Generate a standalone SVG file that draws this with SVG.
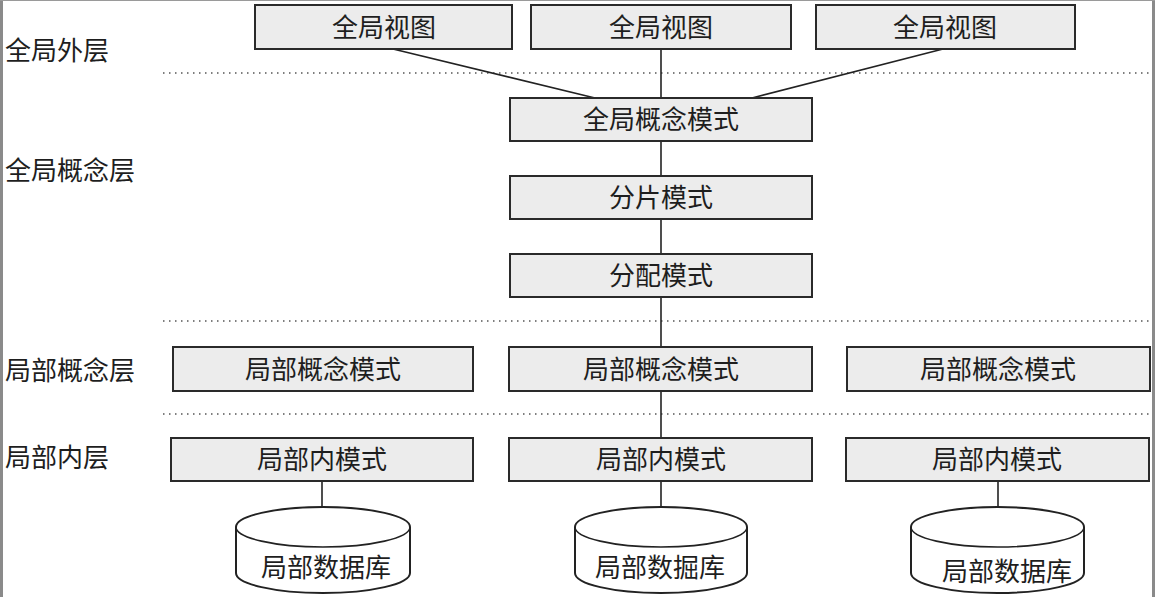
<svg xmlns="http://www.w3.org/2000/svg" width="1155" height="597" viewBox="0 0 1155 597">
<style>
.box{fill:#ececec;stroke:#2a2a2a;stroke-width:2}
.t{font-family:"Noto Sans CJK SC","Noto Sans CJK JP",sans-serif;font-size:26px;fill:#1e1e1e;text-anchor:middle}
.lbl{font-family:"Noto Sans CJK SC","Noto Sans CJK JP",sans-serif;font-size:26px;fill:#1e1e1e}
.ln{stroke:#222;stroke-width:1.6;fill:none}
.dot{stroke:#555;stroke-width:1.5;stroke-dasharray:1.5 4.5;fill:none}
.db{fill:#fff;stroke:#222;stroke-width:2}
</style>
<rect x="0" y="0" width="1155" height="597" fill="#fff"/>
<rect x="0" y="0" width="3" height="597" fill="#8a8a8a"/>
<rect x="1152" y="0" width="3" height="597" fill="#8a8a8a"/>
<rect x="0" y="0" width="1155" height="1" fill="#9a9a9a"/>
<g id="layers">
<text class="lbl" x="5" y="60">全局外层</text>
<text class="lbl" x="5" y="180">全局概念层</text>
<text class="lbl" x="5" y="380">局部概念层</text>
<text class="lbl" x="5" y="467">局部内层</text>
<line class="dot" x1="163" y1="73" x2="1152" y2="73"/>
<line class="dot" x1="163" y1="321" x2="1152" y2="321"/>
<line class="dot" x1="163" y1="414" x2="1152" y2="414"/>
</g>
<g id="connectors">
<line class="ln" x1="393" y1="49" x2="595" y2="98"/>
<line class="ln" x1="661" y1="49" x2="661" y2="98"/>
<line class="ln" x1="943" y1="49" x2="752" y2="98"/>
<line class="ln" x1="661" y1="141" x2="661" y2="176"/>
<line class="ln" x1="661" y1="219" x2="661" y2="254"/>
<line class="ln" x1="661" y1="297" x2="661" y2="347"/>
<line class="ln" x1="661" y1="391" x2="661" y2="438"/>
<line class="ln" x1="661" y1="481" x2="661" y2="507"/>
<line class="ln" x1="322" y1="481" x2="322" y2="507"/>
<line class="ln" x1="998" y1="481" x2="998" y2="507"/>
</g>
<g id="gv1"><rect class="box" x="255" y="5" width="257" height="44"/><text class="t" x="384" y="37">全局视图</text></g>
<g id="gv2"><rect class="box" x="531" y="5" width="260" height="44"/><text class="t" x="661" y="37">全局视图</text></g>
<g id="gv3"><rect class="box" x="816" y="5" width="259" height="44"/><text class="t" x="945" y="37">全局视图</text></g>
<g id="gcm"><rect class="box" x="510" y="98" width="302" height="43"/><text class="t" x="661" y="129">全局概念模式</text></g>
<g id="frag"><rect class="box" x="510" y="176" width="302" height="43"/><text class="t" x="661" y="207">分片模式</text></g>
<g id="alloc"><rect class="box" x="510" y="254" width="302" height="43"/><text class="t" x="661" y="285">分配模式</text></g>
<g id="lcm1"><rect class="box" x="173" y="347" width="300" height="44"/><text class="t" x="323" y="379">局部概念模式</text></g>
<g id="lcm2"><rect class="box" x="509" y="347" width="303" height="44"/><text class="t" x="661" y="379">局部概念模式</text></g>
<g id="lcm3"><rect class="box" x="847" y="347" width="303" height="44"/><text class="t" x="998" y="379">局部概念模式</text></g>
<g id="lim1"><rect class="box" x="171" y="438" width="302" height="43"/><text class="t" x="322" y="469">局部内模式</text></g>
<g id="lim2"><rect class="box" x="509" y="438" width="303" height="43"/><text class="t" x="661" y="469">局部内模式</text></g>
<g id="lim3"><rect class="box" x="846" y="438" width="303" height="43"/><text class="t" x="997" y="469">局部内模式</text></g>
<g id="db1"><path class="db" d="M236,527 A87,20 0 0 1 410,527 L410,573 A87,20 0 0 1 236,573 Z"/><path class="ln" d="M236,527 A87,20 0 0 0 410,527"/><text class="t" x="326" y="577">局部数据库</text></g>
<g id="db2"><path class="db" d="M575,527 A86,20 0 0 1 747,527 L747,573 A86,20 0 0 1 575,573 Z"/><path class="ln" d="M575,527 A86,20 0 0 0 747,527"/><text class="t" x="660" y="577">局部数掘库</text></g>
<g id="db3"><path class="db" d="M911,527 A86.5,20 0 0 1 1084,527 L1084,573 A86.5,20 0 0 1 911,573 Z"/><path class="ln" d="M911,527 A86.5,20 0 0 0 1084,527"/><text class="t" x="1007" y="581">局部数据库</text></g>
</svg>
